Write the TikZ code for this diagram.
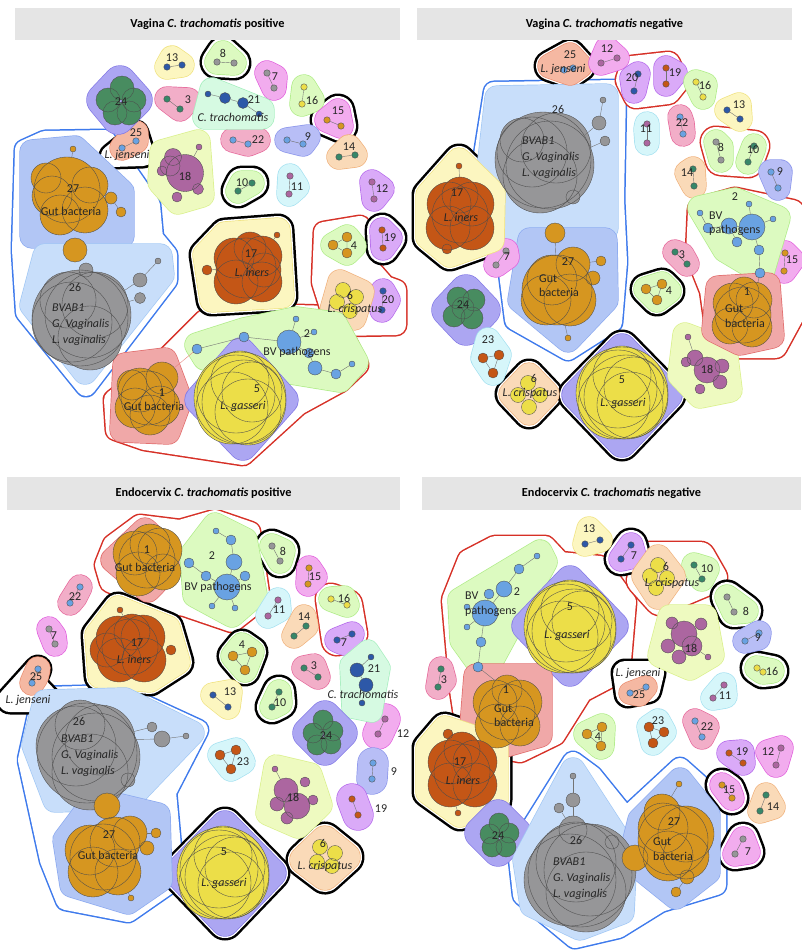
\documentclass[tikz,border=0pt]{standalone}
\usepackage{fontspec}
\setmainfont{Carlito}
\usepackage{tikz}

% hull fills (F) and their rims (D)
\definecolor{yelF}{RGB}{252,246,192}\definecolor{yelD}{RGB}{240,226,128}
\definecolor{grnF}{RGB}{220,250,192}\definecolor{grnD}{RGB}{175,236,135}
\definecolor{limF}{RGB}{238,250,192}\definecolor{limD}{RGB}{218,240,140}
\definecolor{magF}{RGB}{242,172,238}\definecolor{magD}{RGB}{225,95,220}
\definecolor{lilF}{RGB}{218,170,248}\definecolor{lilD}{RGB}{180,105,235}
\definecolor{pnkF}{RGB}{242,174,200}\definecolor{pnkD}{RGB}{230,105,155}
\definecolor{vioF}{RGB}{172,166,242}\definecolor{vioD}{RGB}{130,120,230}
\definecolor{lavF}{RGB}{184,190,246}\definecolor{lavD}{RGB}{140,150,235}
\definecolor{mntF}{RGB}{214,250,226}\definecolor{mntD}{RGB}{165,238,190}
\definecolor{cynF}{RGB}{214,246,250}\definecolor{cynD}{RGB}{165,225,240}
\definecolor{pchF}{RGB}{250,218,184}\definecolor{pchD}{RGB}{240,178,125}
\definecolor{salF}{RGB}{245,184,162}\definecolor{salD}{RGB}{235,142,112}
\definecolor{redF}{RGB}{240,168,168}\definecolor{redD}{RGB}{225,108,108}
\definecolor{skyF}{RGB}{200,222,250}\definecolor{skyD}{RGB}{162,200,245}
\definecolor{bluF}{RGB}{178,198,245}\definecolor{bluD}{RGB}{140,170,240}
% taxon colours
\definecolor{nNav}{RGB}{45,88,168}
\definecolor{nGry}{RGB}{150,150,152}
\definecolor{nTea}{RGB}{55,135,105}
\definecolor{nGrn}{RGB}{72,140,96}
\definecolor{nYel}{RGB}{236,222,72}
\definecolor{nOrg}{RGB}{214,150,32}
\definecolor{nSky}{RGB}{105,162,226}
\definecolor{nPur}{RGB}{172,102,160}
\definecolor{nBrn}{RGB}{196,86,22}
% group outlines
\definecolor{gRed}{RGB}{214,48,38}
\definecolor{gBlu}{RGB}{62,122,236}

\pgfdeclarelayer{ring}
\pgfdeclarelayer{hull}
\pgfsetlayers{ring,hull,main}

% rounded hull behind a module
\newcommand{\blob}[3]{%
  \begin{pgfonlayer}{hull}
    \path[draw=#1D, fill=#1D, line width=#2pt+1.4pt, line join=round, line cap=round] #3;
    \path[draw=#1F, fill=#1F, line width=#2pt, line join=round, line cap=round] #3;
  \end{pgfonlayer}}
% outline round a module or a group
\newcommand{\ring}[4][5]{%
  \begin{pgfonlayer}{ring}
    \path[draw=#2, fill=#2, line width=#3pt+#1pt, line join=round, line cap=round] #4;
    \path[draw=white, fill=white, line width=#3pt, line join=round, line cap=round] #4;
  \end{pgfonlayer}}
\newcommand{\halo}[1]{\ring{black}{30}{(#1a.center) -- (#1b.center) -- (#1t.center) -- cycle}}
% two linked taxa
\newcommand{\duo}[8][24]{%
  \node[cell=6.5, fill=#4] (#2a) at (#5) {};
  \node[cell=6.5, fill=#4] (#2b) at (#6) {};
  \draw[link] (#2a) -- (#2b);
  \node[num] (#2t) at (#8) {#7};
  \blob{#3}{#1}{(#2a.center) -- (#2b.center) -- (#2t.center) -- cycle}}
% overlapping taxa, x/y/diameter
\newcommand{\clump}[3]{%
  \foreach \x/\y/\d in {#3} \fill[#2] (\x,\y) circle[radius=\d/2];
  \foreach \x/\y/\d [count=\i] in {#3} \node[cell=\d] (#1-\i) at (\x,\y) {};}

\begin{document}
\begin{tikzpicture}[x=1pt, y=-1pt,
    cell/.style={circle, draw=black!70, line width=0.35pt, inner sep=0pt, minimum size=#1pt},
    link/.style={draw=black!55, line width=0.4pt},
    num/.style={inner sep=0pt, text=black!85, font=\fontsize{12}{13}\selectfont},
    tax/.style={inner sep=0pt, text=black!85, font=\fontsize{12}{13}\selectfont\itshape},
    grp/.style={inner sep=0pt, text=black!85, font=\fontsize{12}{13}\selectfont},
    grp2/.style={inner sep=0pt, text=black!85, anchor=west, align=left, font=\fontsize{12}{14.5}\selectfont},
    taxa/.style={inner sep=0pt, text=black!85, anchor=west, align=left, font=\fontsize{12}{16}\selectfont\itshape},
    banner/.style={fill=gray!20, inner sep=0pt, font=\bfseries\fontsize{12.3}{14}\selectfont}
]
\useasboundingbox (0,0) rectangle (801,950);

% ---------- Vagina, C. trachomatis positive ----------
\node[banner, minimum width=385pt, minimum height=32pt] (hA) at (207.5,24) {Vagina \textit{C. trachomatis} positive};

% group outlines
\ring[3]{gBlu}{20}{(25,150) -- (45,141) -- (105,140) -- (150,205) -- (153,238) -- (167,255) -- (167,280) -- (86,386) -- (26,312) -- (22,250) -- cycle}
\ring[3]{gRed}{20}{(114,400) -- (165,360) -- (205,320) -- (257,314) -- (333,316) -- (358,365) -- (340,382) -- (298,405) -- (243,455) -- (145,440) -- (116,430) -- cycle}
\ring[3]{gRed}{20}{(324,232) -- (360,226) -- (364,262) -- (385,286) -- (396,290) -- (396,325) -- (336,326) -- (322,282) -- cycle}

% gut bacteria 27
\clump{a27}{nOrg}{67/190/66, 52/196/40, 85/210/46, 60/215/40, 46/178/30, 90/185/36, 73/149/6, 111/198/12, 121/212/10, 75/250/24}
\draw[link] (a27-7) -- (a27-1);
\draw[link] (a27-8) -- (a27-9);
\node[num] (a27t) at (73,189) {27};
\node[grp] (a27s) at (71,211) {Gut bacteria};
\blob{blu}{24}{(32,152) -- (75,148) -- (122,192) -- (122,236) -- (32,236) -- cycle}

% BVAB1 26
\clump{a26}{nGry}{80/318/96, 88/315/86, 72/322/80, 95/305/66, 68/300/56, 90/338/64, 86/270/14, 140/280/14, 140/298/11, 158/261/6}
\draw[link] (a26-2) -- (a26-8);
\draw[link] (a26-2) -- (a26-9);
\draw[link] (a26-8) -- (a26-10);
\node[num] (a26t) at (75,287) {26};
\node[taxa] (a26s) at (52,325) {BVAB1\\G. Vaginalis\\L. vaginalis};
\blob{sky}{24}{(45,256) -- (160,256) -- (162,275) -- (85,372) -- (32,305) -- cycle}

% small modules
\duo{a13}{yel}{nNav}{167,67}{182,65}{13}{172,58}
\duo{a8}{grn}{nGry}{217,62}{234,63}{8}{223,53}
\halo{a8}
\duo{a7}{mag}{nGry}{267,73}{274,88}{7}{275,77}
\duo{a3}{pnk}{nTea}{167,99}{180,109}{3}{188,100}
\duo{a16}{grn}{nYel}{304,87}{302,104}{16}{312,100}
\duo{a15}{mag}{nOrg}{327,120}{341,126}{15}{338,111}
\halo{a15}
\duo{a25}{sal}{nSky}{122,148}{136,141}{25}{136,133}
\node[tax] (a25s) at (127,155) {L. jenseni};
\ring{black}{22}{(a25a.center) -- (a25b.center) -- (a25t.center) -- (143,155) -- (112,156) -- cycle}
\duo{a22}{pnk}{nSky}{233,140}{248,144}{22}{258,140}
\duo{a9}{lav}{nSky}{287,140}{303,144}{9}{308,137}
\duo{a14}{pch}{nTea}{339,157}{355,155}{14}{349,147}
\duo{a10}{grn}{nTea}{238,191}{252,183}{10}{242,183}
\halo{a10}
\duo{a11}{cyn}{nPur}{290,176}{289,194}{11}{297,187}
\duo{a12}{lil}{nPur}{372,182}{374,199}{12}{382,189}
\duo{a19}{lil}{nBrn}{382,230}{383,248}{19}{390,238}
\halo{a19}
\duo{a20}{lil}{nNav}{383,291}{382,310}{20}{388,300}

% C. trachomatis 21
\node[cell=6, fill=nNav] (a21a) at (208,94) {};
\node[cell=11, fill=nNav] (a21b) at (225,98) {};
\node[cell=11, fill=nNav] (a21c) at (243,103) {};
\node[cell=6, fill=nNav] (a21d) at (259,114) {};
\draw[link] (a21a) -- (a21b) -- (a21c) -- (a21d);
\node[num] (a21t) at (254,100) {21};
\node[tax] (a21s) at (233,117) {C. trachomatis};
\blob{mnt}{24}{(212,90) -- (262,110) -- (262,117) -- (205,117) -- cycle}

% 24
\clump{a24}{nGrn}{122/88/24, 108/100/24, 134/100/24, 115/113/24, 129/113/24}
\node[num] (a24t) at (121,102) {24};
\blob{vio}{32}{(120,82) -- (136,100) -- (118,118) -- (103,100) -- cycle}

% 18
\clump{a18}{nPur}{185/173/37, 170/166/20, 173/157/17, 162/171/10, 198/189/11, 177/197/10, 199/147/6}
\draw[link] (a18-7) -- (a18-1);
\node[num] (a18t) at (185,176) {18};
\blob{lim}{24}{(162,152) -- (198,142) -- (202,195) -- (178,202) -- (160,182) -- cycle}

% L. iners 17
\clump{a17}{nBrn}{246/268/60, 234/258/40, 262/256/40, 236/282/44, 262/282/40, 250/248/32, 264/270/34, 207/270/10, 277/235/6}
\draw[link] (a17-8) -- (a17-1);
\draw[link] (a17-9) -- (a17-3);
\node[num] (a17t) at (251,254) {17};
\node[tax] (a17s) at (252,272) {L. iners};
\blob{yel}{24}{(205,255) -- (225,234) -- (278,230) -- (282,296) -- (212,300) -- cycle}
\ring{black}{28}{(205,255) -- (225,234) -- (278,230) -- (282,296) -- (212,300) -- cycle}

% 4
\node[cell=10, fill=nOrg] (a4a) at (333,245) {};
\node[cell=10, fill=nOrg] (a4b) at (347,237) {};
\node[cell=10, fill=nOrg] (a4c) at (347,253) {};
\draw[link] (a4a) -- (a4b) -- (a4c) -- (a4a);
\node[num] (a4t) at (354,246) {4};
\blob{grn}{24}{(a4a.center) -- (a4b.center) -- (a4t.center) -- (a4c.center) -- cycle}

% L. crispatus 6
\clump{a6}{nYel}{343/290/15, 356/297/15, 337/302/15, 350/311/15}
\node[num] (a6t) at (350,295) {6};
\node[tax] (a6s) at (355,309) {L. crispatus};
\blob{pch}{24}{(340,282) -- (362,292) -- (354,318) -- (332,310) -- cycle}

% BV pathogens 2
\node[cell=10, fill=nSky] (a2a) at (197,349) {};
\node[cell=10, fill=nSky] (a2b) at (244,337) {};
\node[cell=24, fill=nSky] (a2c) at (289,342) {};
\node[cell=6, fill=nSky] (a2d) at (296,319) {};
\node[cell=6, fill=nSky] (a2e) at (314,332) {};
\node[cell=10, fill=nSky] (a2f) at (309,353) {};
\node[cell=14, fill=nSky] (a2g) at (315,368) {};
\node[cell=10, fill=nSky] (a2h) at (336,374) {};
\node[cell=6, fill=nSky] (a2i) at (352,364) {};
\draw[link] (a2a) -- (a2b) -- (a2c) -- (a2d);
\draw[link] (a2c) -- (a2e);
\draw[link] (a2c) -- (a2f) -- (a2g) -- (a2h) -- (a2i);
\node[num] (a2t) at (307,334) {2};
\node[grp] (a2s) at (297,352) {BV pathogens};
\blob{grn}{24}{(197,345) -- (244,330) -- (296,319) -- (335,324) -- (356,362) -- (340,380) -- (205,358) -- cycle}

% gut bacteria 1
\clump{a1}{nOrg}{148/398/54, 140/390/44, 162/378/32, 150/415/40, 135/408/40, 160/406/40, 132/385/30}
\draw[link, gRed!60] (a1-3) -- (a2a);
\node[num] (a1t) at (162,393) {1};
\node[grp] (a1s) at (154,406) {Gut bacteria};
\blob{red}{24}{(125,365) -- (165,360) -- (180,400) -- (168,432) -- (122,430) -- cycle}

% L. gasseri 5
\clump{a5}{nYel}{240/398/92, 244/402/84, 236/394/78, 248/412/66, 232/408/72, 240/380/58, 252/392/60}
\node[num] (a5t) at (257,389) {5};
\node[tax] (a5s) at (243,406) {L. gasseri};
\blob{vio}{28}{(241,352) -- (284,400) -- (243,446) -- (199,400) -- cycle}

% ---------- Vagina, C. trachomatis negative ----------
\node[banner, minimum width=375pt, minimum height=32pt] (hB) at (604.5,24) {Vagina \textit{C. trachomatis} negative};

% group outlines
\ring[3]{gBlu}{20}{(494,92) -- (616,90) -- (614,200) -- (617,262) -- (612,322) -- (568,350) -- (515,320) -- (508,265) -- (490,215) -- (484,155) -- cycle}
\ring[3]{gRed}{24}{(632,68) -- (668,64) -- (676,82) -- (668,92) -- (636,96) -- (628,80) -- cycle}
\ring[3]{gRed}{30}{(716,142) -- (754,146) -- (748,162) -- (721,160) -- cycle}
\ring[3]{gRed}{24}{(700,210) -- (735,200) -- (792,212) -- (800,300) -- (775,346) -- (720,346) -- (712,290) -- (698,255) -- cycle}

% BVAB1 26
\clump{b26}{nGry}{543/160/96, 550/165/88, 532/152/70, 556/148/70, 540/176/74, 522/140/44, 573/197/14, 599/123/14, 605/141/10, 603/100/6}
\draw[link] (b26-2) -- (b26-8);
\draw[link] (b26-2) -- (b26-9);
\draw[link] (b26-8) -- (b26-10);
\node[num] (b26t) at (558,109) {26};
\node[taxa] (b26s) at (522,158) {BVAB1\\G. Vaginalis\\L. vaginalis};
\blob{sky}{24}{(497,98) -- (606,96) -- (606,228) -- (508,232) -- (490,160) -- cycle}

% gut bacteria 27
\clump{b27}{nOrg}{557/290/70, 546/300/50, 570/300/52, 552/280/50, 573/264/34, 555/233/20, 601/261/10, 593/278/14, 568/338/6}
\draw[link] (b27-6) -- (b27-1);
\draw[link] (b27-7) -- (b27-5);
\draw[link] (b27-9) -- (b27-1);
\node[num] (b27t) at (568,262) {27};
\node[grp2] (b27s) at (539,285.5) {Gut\\bacteria};
\blob{blu}{24}{(530,240) -- (605,240) -- (606,300) -- (568,340) -- (520,300) -- cycle}

% small modules
\node[cell=6.5, fill=nSky] (b25a) at (564,70) {};
\node[cell=6.5, fill=nSky] (b25b) at (573,68) {};
\draw[link] (b25a) -- (b25b);
\node[num] (b25t) at (570,55) {25};
\node[tax] (b25s) at (563,69) {L. jenseni};
\blob{sal}{24}{(550,66) -- (570,55) -- (580,66) -- (570,73) -- cycle}
\ring{black}{28}{(550,66) -- (570,55) -- (580,66) -- (570,73) -- cycle}
\duo{b12}{mag}{nPur}{601,63}{617,58}{12}{607,49}
\duo{b20}{lil}{nNav}{638,74}{634,91}{20}{632,78}
\duo{b19}{lil}{nBrn}{666,68}{666,84}{19}{675,73}
\duo{b16}{grn}{nYel}{696,82}{703,97}{16}{705,85}
\duo{b13}{yel}{nNav}{727,110}{740,119}{13}{739,105}
\duo{b11}{cyn}{nPur}{647,124}{647,143}{11}{646,129}
\duo{b22}{pnk}{nSky}{680,117}{683,134}{22}{682,123}
\duo{b8}{grn}{nGry}{716,142}{721,160}{8}{721,147}
\duo{b10}{grn}{nTea}{754,146}{748,162}{10}{753,150}
\duo{b14}{pch}{nTea}{693,169}{694,186}{14}{687,173}
\duo{b9}{lav}{nSky}{771,172}{778,188}{9}{780,172}
\duo{b7}{mag}{nGry}{506,251}{496,265}{7}{507,257}
\duo{b3}{pnk}{nTea}{675,252}{687,264}{3}{682,255}
\duo{b15}{mag}{nOrg}{785,253}{784,271}{15}{792,260}

% L. iners 17
\clump{b17}{nBrn}{460/215/56, 449/204/44, 472/204/44, 448/228/44, 472/228/44, 460/195/36, 459/166/6, 447/249/10}
\draw[link] (b17-7) -- (b17-6);
\node[num] (b17t) at (457,193) {17};
\node[tax] (b17s) at (461,217) {L. iners};
\blob{yel}{24}{(459,160) -- (493,193) -- (492,240) -- (450,255) -- (428,237) -- (428,195) -- cycle}
\ring{black}{28}{(459,160) -- (493,193) -- (492,240) -- (450,255) -- (428,237) -- (428,195) -- cycle}

% 24
\clump{b24}{nGrn}{458/298/22, 474/300/22, 454/316/22, 472/318/22, 463/308/22}
\node[num] (b24t) at (463,305) {24};
\blob{vio}{32}{(466,291) -- (484,310) -- (466,329) -- (448,310) -- cycle}

% 23
\node[cell=10, fill=nBrn] (b23a) at (483,358) {};
\node[cell=10, fill=nBrn] (b23b) at (499,355) {};
\node[cell=10, fill=nBrn] (b23c) at (493,373) {};
\draw[link] (b23a) -- (b23b) -- (b23c) -- (b23a);
\node[num] (b23t) at (488,340) {23};
\blob{cyn}{24}{(b23t.center) -- (b23b.center) -- (b23c.center) -- (b23a.center) -- cycle}

% L. crispatus 6
\clump{b6}{nYel}{528/383/15, 540/395/15, 518/395/15, 529/407/15}
\node[num] (b6t) at (534,378) {6};
\node[tax] (b6s) at (530,393) {L. crispatus};
\blob{pch}{24}{(529,375) -- (547,394) -- (529,413) -- (511,394) -- cycle}
\ring{black}{28}{(529,375) -- (547,394) -- (529,413) -- (511,394) -- cycle}

% L. gasseri 5
\clump{b5}{nYel}{622/393/92, 626/397/84, 618/389/78, 630/405/66, 614/403/72, 622/375/58, 634/387/60}
\node[num] (b5t) at (622,380) {5};
\node[tax] (b5s) at (623,403) {L. gasseri};
\blob{vio}{28}{(622,348) -- (668,395) -- (622,443) -- (576,395) -- cycle}
\ring{black}{32}{(622,348) -- (668,395) -- (622,443) -- (576,395) -- cycle}

% 4
\node[cell=10, fill=nOrg] (b4a) at (646,289) {};
\node[cell=10, fill=nOrg] (b4b) at (662,284) {};
\node[cell=10, fill=nOrg] (b4c) at (657,300) {};
\draw[link] (b4a) -- (b4b) -- (b4c) -- (b4a);
\node[num] (b4t) at (669,291) {4};
\blob{grn}{24}{(b4a.center) -- (b4b.center) -- (b4t.center) -- (b4c.center) -- cycle}
\ring{black}{28}{(b4a.center) -- (b4b.center) -- (b4t.center) -- (b4c.center) -- cycle}

% 18
\clump{b18}{nPur}{707/370/26, 695/358/16, 722/366/14, 720/382/14, 700/389/10, 686/362/10, 688/337/6}
\draw[link] (b18-7) -- (b18-2);
\node[num] (b18t) at (707,369) {18};
\blob{lim}{24}{(685,335) -- (725,350) -- (730,390) -- (700,396) -- (680,375) -- cycle}

% BV pathogens 2
\node[cell=6, fill=nSky] (b2a) at (700,213) {};
\node[cell=10, fill=nSky] (b2b) at (708,228) {};
\node[cell=16, fill=nSky] (b2c) at (729,226) {};
\node[cell=10, fill=nSky] (b2d) at (737,242) {};
\node[cell=26, fill=nSky] (b2e) at (752,227) {};
\node[cell=6, fill=nSky] (b2f) at (749,204) {};
\node[cell=6, fill=nSky] (b2g) at (773,219) {};
\node[cell=10, fill=nSky] (b2h) at (759,250) {};
\node[cell=10, fill=nSky] (b2i) at (760,273) {};
\draw[link] (b2a) -- (b2b) -- (b2c) -- (b2e) -- (b2f);
\draw[link] (b2e) -- (b2g);
\draw[link] (b2c) -- (b2d);
\draw[link] (b2e) -- (b2h) -- (b2i);
\node[num] (b2t) at (735,197) {2};
\node[grp2] (b2s) at (709,223.5) {BV\\pathogens};
\blob{grn}{24}{(700,208) -- (735,200) -- (778,218) -- (762,272) -- (725,250) -- cycle}

% gut bacteria 1
\clump{b1}{nOrg}{743/315/56, 733/303/40, 754/300/36, 752/327/40, 730/326/36, 744/292/30}
\draw[link] (b2i) -- (b1-3);
\node[num] (b1t) at (747,292) {1};
\node[grp2] (b1s) at (725,316) {Gut\\bacteria};
\blob{red}{24}{(718,288) -- (768,285) -- (772,336) -- (740,343) -- (714,330) -- cycle}

% ---------- Endocervix, C. trachomatis positive ----------
\node[banner, minimum width=393pt, minimum height=33pt] (hC) at (203.5,493.5) {Endocervix \textit{C. trachomatis} positive};

% group outlines
\ring[3]{gRed}{20}{(105,565) -- (113,545) -- (140,525) -- (180,530) -- (215,520) -- (250,532) -- (260,600) -- (232,622) -- (185,606) -- (150,600) -- (110,582) -- cycle}
\ring[3]{gRed}{30}{(331,599) -- (347,605) -- (352,634) -- (337,640) -- cycle}
\ring[3]{gBlu}{20}{(42,697) -- (122,695) -- (198,730) -- (166,792) -- (174,880) -- (128,912) -- (66,900) -- (50,860) -- (28,760) -- cycle}

% gut bacteria 1
\clump{c1}{nOrg}{147/560/56, 135/553/44, 160/550/44, 138/574/44, 163/572/36, 150/544/40}
\node[num] (c1t) at (147,550) {1};
\node[grp] (c1s) at (145,567) {Gut bacteria};
\blob{red}{24}{(145,530) -- (177,560) -- (148,590) -- (113,560) -- cycle}

% BV pathogens 2
\node[cell=10, fill=nSky] (c2a) at (189,563) {};
\node[cell=10, fill=nSky] (c2b) at (206,576) {};
\node[cell=26, fill=nSky] (c2c) at (227,587) {};
\node[cell=16, fill=nSky] (c2d) at (234,562) {};
\node[cell=10, fill=nSky] (c2e) at (231,540) {};
\node[cell=6, fill=nSky] (c2f) at (216,531) {};
\node[cell=10, fill=nSky] (c2g) at (245,576) {};
\node[cell=6, fill=nSky] (c2h) at (212,606) {};
\node[cell=6, fill=nSky] (c2i) at (235,608) {};
\draw[link] (c2f) -- (c2e) -- (c2d) -- (c2c);
\draw[link] (c2a) -- (c2b) -- (c2c) -- (c2g);
\draw[link] (c2c) -- (c2h);
\draw[link] (c2c) -- (c2i);
\node[num] (c2t) at (212,556) {2};
\node[grp] (c2s) at (218,587) {BV pathogens};
\blob{grn}{24}{(192,555) -- (215,525) -- (245,540) -- (255,595) -- (232,615) -- (195,595) -- cycle}

% small modules
\duo{c8}{grn}{nGry}{272,546}{280,561}{8}{283,551}
\halo{c8}
\duo{c15}{mag}{nOrg}{309,568}{308,584}{15}{315,577}
\duo{c22}{pnk}{nSky}{80,587}{70,603}{22}{75,597}
\duo{c11}{cyn}{nPur}{278,600}{268,616}{11}{279,610}
\duo{c16}{grn}{nYel}{331,599}{347,605}{16}{344,598}
\duo{c7}{lil}{nNav}{337,640}{352,634}{7}{344,643}
\duo{c14}{pch}{nTea}{306,626}{294,636}{14}{304,617}
\duo{c7m}{mag}{nGry}{49,629}{55,644}{7}{54,636}
\duo{c3}{pnk}{nTea}{304,668}{318,677}{3}{314,666}
\duo{c25}{sal}{nSky}{38,669}{32,683}{25}{36,677}
\node[tax] (c25s) at (28,700) {L. jenseni};
\ring{black}{24}{(c25a.center) -- (c25b.center) -- (48,700) -- (10,700) -- cycle}
\duo{c13}{yel}{nNav}{213,695}{228,707}{13}{230,692}
\duo{c10}{grn}{nTea}{279,692}{272,707}{10}{280,703}
\halo{c10}
\node[cell=6.5, fill=nPur] (c12a) at (385,719) {};
\node[cell=6.5, fill=nPur] (c12b) at (378,734) {};
\draw[link] (c12a) -- (c12b);
\node[num] (c12t) at (403,734) {12};
\blob{mag}{30}{(c12a.center) -- (c12b.center)}
\node[cell=6.5, fill=nSky] (c9a) at (373,763) {};
\node[cell=6.5, fill=nSky] (c9b) at (372,779) {};
\draw[link] (c9a) -- (c9b);
\node[num] (c9t) at (394,772) {9};
\blob{lav}{30}{(c9a.center) -- (c9b.center)}
\node[cell=6.5, fill=nBrn] (c19a) at (352,799) {};
\node[cell=6.5, fill=nBrn] (c19b) at (358,815) {};
\draw[link] (c19a) -- (c19b);
\node[num] (c19t) at (381,809) {19};
\blob{lil}{30}{(c19a.center) -- (c19b.center)}

% C. trachomatis 21
\node[cell=6, fill=nNav] (c21a) at (371,657) {};
\node[cell=14, fill=nNav] (c21b) at (357,670) {};
\node[cell=14, fill=nNav] (c21c) at (366,685) {};
\node[cell=6, fill=nNav] (c21d) at (362,703) {};
\draw[link] (c21a) -- (c21b) -- (c21c) -- (c21d);
\node[num] (c21t) at (374,669) {21};
\node[tax] (c21s) at (363,694) {C. trachomatis};
\blob{mnt}{20}{(368,650) -- (380,668) -- (372,712) -- (352,708) -- (350,665) -- cycle}

% L. iners 17
\clump{c17}{nBrn}{130/647/56, 118/638/44, 143/637/44, 119/660/44, 144/660/44, 132/632/36, 107/650/34, 120/610/6, 171/650/10}
\draw[link] (c17-8) -- (c17-6);
\node[num] (c17t) at (137,643) {17};
\node[tax] (c17s) at (134,659) {L. iners};
\blob{yel}{24}{(118,608) -- (168,628) -- (178,662) -- (150,680) -- (100,676) -- (97,635) -- cycle}
\ring{black}{28}{(118,608) -- (168,628) -- (178,662) -- (150,680) -- (100,676) -- (97,635) -- cycle}

% 4
\node[cell=10, fill=nOrg] (c4a) at (233,656) {};
\node[cell=10, fill=nOrg] (c4b) at (252,652) {};
\node[cell=10, fill=nOrg] (c4c) at (245,670) {};
\draw[link] (c4a) -- (c4b) -- (c4c) -- (c4a);
\node[num] (c4t) at (242,645) {4};
\blob{grn}{24}{(c4t.center) -- (c4b.center) -- (c4c.center) -- (c4a.center) -- cycle}
\ring{black}{28}{(c4t.center) -- (c4b.center) -- (c4c.center) -- (c4a.center) -- cycle}

% 24
\clump{c24}{nGrn}{323/720/20, 313/733/20, 333/731/20, 317/745/20, 331/744/20}
\node[num] (c24t) at (326,736) {24};
\blob{vio}{30}{(325,716) -- (342,733) -- (325,750) -- (308,733) -- cycle}

% 23
\node[cell=10, fill=nBrn] (c23a) at (220,755) {};
\node[cell=10, fill=nBrn] (c23b) at (236,750) {};
\node[cell=10, fill=nBrn] (c23c) at (231,769) {};
\draw[link] (c23a) -- (c23b) -- (c23c) -- (c23a);
\node[num] (c23t) at (243,762) {23};
\blob{cyn}{24}{(c23a.center) -- (c23b.center) -- (c23t.center) -- (c23c.center) -- cycle}

% 18
\clump{c18}{nPur}{286/790/24, 297/806/26, 277/804/14, 287/818/12, 305/782/10, 313/800/10, 275/769/6}
\draw[link] (c18-7) -- (c18-1);
\node[num] (c18t) at (293,797) {18};
\blob{lim}{24}{(276,767) -- (310,775) -- (320,805) -- (298,826) -- (268,813) -- cycle}

% L. crispatus 6
\clump{c6}{nYel}{320/847/15, 335/853/15, 317/862/15, 332/866/15}
\node[num] (c6t) at (323,843) {6};
\node[tax] (c6s) at (325,866) {L. crispatus};
\blob{pch}{28}{(325,840) -- (346,857) -- (325,876) -- (304,860) -- cycle}
\ring{black}{32}{(325,840) -- (346,857) -- (325,876) -- (304,860) -- cycle}

% L. gasseri 5
\clump{c5}{nYel}{223/873/92, 227/877/84, 219/869/78, 231/885/66, 215/883/72, 223/855/58, 235/867/60}
\node[num] (c5t) at (224,852) {5};
\node[tax] (c5s) at (224,883) {L. gasseri};
\blob{vio}{28}{(225,825) -- (272,873) -- (225,922) -- (178,873) -- cycle}
\ring{black}{32}{(225,825) -- (272,873) -- (225,922) -- (178,873) -- cycle}

% BVAB1 26
\clump{c26}{nGry}{87/753/100, 96/757/88, 76/746/80, 100/740/70, 90/772/76, 80/725/50, 152/727/10, 162/739/16, 186/736/6, 128/780/14}
\draw[link] (c26-4) -- (c26-7);
\draw[link] (c26-4) -- (c26-8);
\draw[link] (c26-8) -- (c26-9);
\node[num] (c26t) at (79,721) {26};
\node[taxa] (c26s) at (61,756) {BVAB1\\G. Vaginalis\\L. vaginalis};
\blob{sky}{24}{(45,702) -- (125,700) -- (192,733) -- (130,798) -- (55,800) -- (34,745) -- cycle}

% gut bacteria 27
\clump{c27}{nOrg}{103/857/66, 90/850/50, 115/842/50, 93/872/50, 118/872/46, 107/806/26, 130/833/34, 156/833/10, 147/848/14, 131/898/6}
\draw[link] (c27-7) -- (c27-8);
\draw[link] (c27-5) -- (c27-10);
\node[num] (c27t) at (109,835) {27};
\node[grp] (c27s) at (108,855) {Gut bacteria};
\blob{blu}{24}{(95,800) -- (158,815) -- (160,880) -- (128,902) -- (72,885) -- (65,840) -- cycle}

% ---------- Endocervix, C. trachomatis negative ----------
\node[banner, minimum width=379pt, minimum height=33pt] (hD) at (611.5,493.5) {Endocervix \textit{C. trachomatis} negative};

% group outlines
\ring[3]{gRed}{20}{(468,560) -- (495,546) -- (545,546) -- (560,562) -- (600,566) -- (626,602) -- (620,672) -- (582,692) -- (555,735) -- (520,752) -- (468,742) -- (460,690) -- (452,600) -- cycle}
\ring[3]{gRed}{30}{(650,557) -- (700,557) -- (712,578) -- (660,600) -- (642,580) -- cycle}
\ring[3]{gBlu}{20}{(573,762) -- (592,776) -- (626,818) -- (680,768) -- (716,800) -- (716,885) -- (660,902) -- (618,928) -- (575,938) -- (523,895) -- (518,850) -- cycle}

% BV pathogens 2
\node[cell=6, fill=nSky] (d2a) at (537,556) {};
\node[cell=10, fill=nSky] (d2b) at (519,569) {};
\node[cell=16, fill=nSky] (d2c) at (504,589) {};
\node[cell=10, fill=nSky] (d2d) at (489,594) {};
\node[cell=26, fill=nSky] (d2e) at (485,613) {};
\node[cell=6, fill=nSky] (d2f) at (467,607) {};
\node[cell=6, fill=nSky] (d2g) at (467,627) {};
\node[cell=10, fill=nSky] (d2h) at (481,642) {};
\node[cell=10, fill=nSky] (d2i) at (478,667) {};
\draw[link] (d2a) -- (d2b) -- (d2c) -- (d2e);
\draw[link] (d2d) -- (d2e);
\draw[link] (d2f) -- (d2e);
\draw[link] (d2g) -- (d2e);
\draw[link] (d2e) -- (d2h) -- (d2i);
\node[num] (d2t) at (517,592) {2};
\node[grp2] (d2s) at (465,604) {BV\\pathogens};
\blob{grn}{24}{(540,552) -- (545,562) -- (485,672) -- (462,640) -- (460,600) -- cycle}

% L. gasseri 5
\clump{d5}{nYel}{570/627/92, 574/631/84, 566/623/78, 578/639/66, 562/637/72, 570/609/58, 582/621/60}
\node[num] (d5t) at (570,607) {5};
\node[tax] (d5s) at (567,635) {L. gasseri};
\blob{vio}{28}{(570,580) -- (614,626) -- (570,672) -- (526,626) -- cycle}

% gut bacteria 1
\clump{d1}{nOrg}{507/712/56, 495/702/44, 520/702/44, 497/726/44, 520/726/40, 507/690/30}
\draw[link] (d2i) -- (d1-6);
\node[num] (d1t) at (506,690) {1};
\node[grp2] (d1s) at (494,715.5) {Gut\\bacteria};
\blob{red}{24}{(476,676) -- (540,676) -- (540,735) -- (505,745) -- (472,726) -- cycle}

% small modules
\duo{d13}{yel}{nNav}{585,544}{600,540}{13}{589,529}
\duo{d7}{lil}{nNav}{631,545}{621,559}{7}{634,556}
\halo{d7}
\duo{d10}{grn}{nTea}{694,565}{702,579}{10}{707,569}
\duo{d8}{grn}{nGry}{727,597}{734,612}{8}{746,611}
\halo{d8}
\duo{d9}{lav}{nSky}{745,641}{759,633}{9}{758,638}
\duo{d16}{grn}{nYel}{757,668}{763,672}{16}{772,671}
\halo{d16}
\duo{d3}{pnk}{nTea}{441,669}{438,687}{3}{444,680}
\duo{d11}{cyn}{nPur}{724,685}{713,698}{11}{725,696}
\duo{d22}{pnk}{nSky}{695,721}{702,737}{22}{707,727}
\duo{d19}{lil}{nBrn}{729,753}{743,763}{19}{742,752}
\duo{d12}{mag}{nPur}{781,748}{776,765}{12}{768,752}
\duo{d15}{mag}{nOrg}{722,785}{732,798}{15}{729,790}
\halo{d15}
\duo{d14}{pch}{nTea}{766,795}{760,811}{14}{773,807}
\duo{d7m}{mag}{nGry}{743,839}{735,854}{7}{748,852}
\halo{d7m}
\node[cell=6.5, fill=nSky] (d25a) at (630,693) {};
\node[cell=6.5, fill=nSky] (d25b) at (646,687) {};
\draw[link] (d25a) -- (d25b);
\node[num] (d25t) at (639,695) {25};
\node[tax] (d25s) at (638,673) {L. jenseni};
\blob{sal}{22}{(d25a.center) -- (d25b.center) -- (d25t.center) -- cycle}
\ring{black}{24}{(625,673) -- (652,673) -- (648,690) -- (628,694) -- cycle}

% L. crispatus 6
\clump{d6}{nYel}{658/565/15, 650/576/15, 667/578/15, 656/588/15}
\node[num] (d6t) at (666,566) {6};
\node[tax] (d6s) at (672,583) {L. crispatus};
\blob{pch}{26}{(658,558) -- (672,576) -- (658,596) -- (645,576) -- cycle}

% 18
\clump{d18}{nPur}{684/634/26, 672/623/12, 701/624/12, 668/646/14, 679/657/14, 692/646/20, 708/657/6}
\draw[link] (d18-7) -- (d18-6);
\node[num] (d18t) at (691,648) {18};
\blob{lim}{24}{(670,617) -- (705,617) -- (712,655) -- (690,668) -- (660,655) -- cycle}

% L. iners 17
\clump{d17}{nBrn}{462/772/56, 450/762/44, 475/762/44, 450/785/44, 475/785/44, 462/750/36, 448/734/10, 458/813/6}
\draw[link] (d17-8) -- (d17-4);
\node[num] (d17t) at (460,762) {17};
\node[tax] (d17s) at (463,780) {L. iners};
\blob{yel}{24}{(445,728) -- (496,745) -- (496,800) -- (460,815) -- (428,792) -- (428,748) -- cycle}
\ring{black}{28}{(445,728) -- (496,745) -- (496,800) -- (460,815) -- (428,792) -- (428,748) -- cycle}

% 4
\node[cell=10, fill=nOrg] (d4a) at (587,734) {};
\node[cell=10, fill=nOrg] (d4b) at (602,727) {};
\node[cell=10, fill=nOrg] (d4c) at (601,746) {};
\draw[link] (d4a) -- (d4b) -- (d4c) -- (d4a);
\node[num] (d4t) at (598,737) {4};
\blob{grn}{26}{(d4a.center) -- (d4b.center) -- (d4c.center) -- cycle}

% 23
\node[cell=10, fill=nBrn] (d23a) at (649,727) {};
\node[cell=10, fill=nBrn] (d23b) at (664,732) {};
\node[cell=10, fill=nBrn] (d23c) at (653,743) {};
\draw[link] (d23a) -- (d23b) -- (d23c) -- (d23a);
\node[num] (d23t) at (658,721) {23};
\blob{cyn}{24}{(d23a.center) -- (d23t.center) -- (d23b.center) -- (d23c.center) -- cycle}

% 24
\clump{d24}{nGrn}{499/823/20, 490/834/20, 509/833/20, 492/847/20, 506/847/20}
\node[num] (d24t) at (498,836) {24};
\blob{vio}{30}{(498,815) -- (516,833) -- (498,851) -- (480,833) -- cycle}

% BVAB1 26
\clump{d26}{nGry}{580/875/104, 570/880/92, 590/870/92, 576/862/80, 586/892/80, 573/830/28, 612/842/14, 573/800/14, 559/808/10, 573/776/6}
\draw[link] (d26-10) -- (d26-8) -- (d26-6);
\draw[link] (d26-9) -- (d26-6);
\node[num] (d26t) at (576,840) {26};
\node[taxa] (d26s) at (553,879) {BVAB1\\G. Vaginalis\\L. vaginalis};
\blob{sky}{24}{(573,770) -- (625,850) -- (622,912) -- (580,928) -- (532,905) -- (525,860) -- cycle}

% gut bacteria 27
\clump{d27}{nOrg}{673/840/70, 663/828/50, 686/834/56, 668/856/50, 686/856/46, 662/812/36, 635/858/26, 687/877/14, 676/892/10, 679/784/6}
\draw[link] (d27-10) -- (d27-6);
\draw[link] (d27-9) -- (d27-8);
\node[num] (d27t) at (674,822) {27};
\node[grp2] (d27s) at (653,849) {Gut\\bacteria};
\blob{blu}{24}{(680,780) -- (708,815) -- (708,872) -- (676,897) -- (630,860) -- (640,820) -- cycle}

\end{tikzpicture}
\end{document}
